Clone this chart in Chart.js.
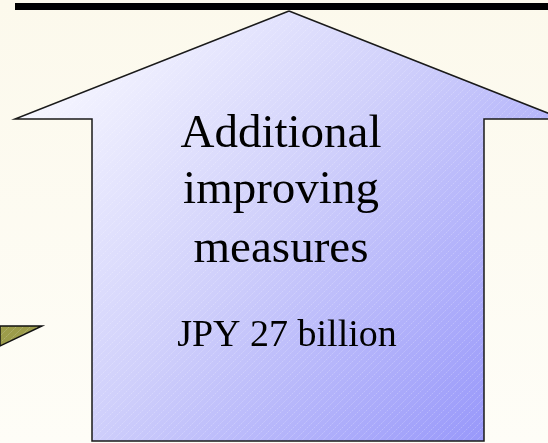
<!DOCTYPE html>
<html>
<head>
<meta charset="utf-8">
<script src="https://cdn.jsdelivr.net/npm/chart.js@4/dist/chart.umd.min.js"></script>
<style>
  html, body { margin: 0; padding: 0; background: #fcfaef; }
  #wrap { width: 548px; height: 443px; }
</style>
</head>
<body>
<div id="wrap"><canvas id="diagram" width="548" height="443"></canvas></div>
<script>
// Shape outlines (chart units = picture pixels, y grows downward)
const arrowX = [289, 563, 484, 484, 92, 92, 15, 289];
const arrowY = [11, 119, 119, 441, 441, 119, 119, 11];
const barX = [15, 548];
const barY = [6.5, 6.5];
const wedgeX = [0, 42, 0, 0];
const wedgeY = [326, 326, 346, 326];

// Texts
const arrowLines = ["Additional", "improving", "measures"];
const amountLabel = "JPY 27 billion";

const toPoints = (xs, ys) => xs.map((x, i) => ({ x, y: ys[i] }));

// --- Fills: gradient + faint diagonal hatching ---
function hatchedFill(chart, paint) {
  const w = chart.width, h = chart.height;
  const c = document.createElement("canvas");
  c.width = w; c.height = h;
  const g = c.getContext("2d");
  paint(g, w, h);
  g.strokeStyle = "rgba(255,255,255,0.28)";
  g.lineWidth = 0.8;
  g.setLineDash([2, 1]);
  for (let k = -h; k < w + h; k += 7) {
    g.beginPath();
    g.moveTo(k, h);
    g.lineTo(k + h, 0);
    g.stroke();
  }
  return chart.ctx.createPattern(c, "no-repeat");
}

let arrowFill = null, wedgeFill = null;

function getArrowFill(ctx) {
  const chart = ctx.chart;
  if (!arrowFill) {
    arrowFill = hatchedFill(chart, (g, w, h) => {
      const grad = g.createLinearGradient(60, 60, 500, 440);
      grad.addColorStop(0, "#f7f7ff");
      grad.addColorStop(0.45, "#d0d0fb");
      grad.addColorStop(1, "#9696fa");
      g.fillStyle = grad;
      g.fillRect(0, 0, w, h);
    });
  }
  return arrowFill;
}

function getWedgeFill(ctx) {
  const chart = ctx.chart;
  if (!wedgeFill) {
    wedgeFill = hatchedFill(chart, (g, w, h) => {
      g.fillStyle = "#9c9c4a";
      g.fillRect(0, 0, w, h);
    });
  }
  return wedgeFill;
}

// --- Plugins ---
const pageBackground = {
  id: "pageBackground",
  beforeDraw(chart) {
    const { ctx, width, height } = chart;
    const grad = ctx.createLinearGradient(0, 0, 0, height);
    grad.addColorStop(0, "#fcf9ec");
    grad.addColorStop(1, "#fefdf7");
    ctx.save();
    ctx.fillStyle = grad;
    ctx.fillRect(0, 0, width, height);
    ctx.restore();
  }
};

const arrowText = {
  id: "arrowText",
  afterDatasetsDraw(chart) {
    const { ctx, scales: { x, y } } = chart;
    ctx.save();
    ctx.fillStyle = "#000";
    ctx.textAlign = "center";
    ctx.textBaseline = "alphabetic";
    ctx.font = '47px "Liberation Serif", "Times New Roman", serif';
    const baselines = [147, 203, 262];
    arrowLines.forEach((t, i) => {
      ctx.fillText(t, x.getPixelForValue(281), y.getPixelForValue(baselines[i]));
    });
    ctx.font = '38px "Liberation Serif", "Times New Roman", serif';
    ctx.fillText(amountLabel, x.getPixelForValue(287), y.getPixelForValue(346));
    ctx.restore();
  }
};

new Chart(document.getElementById("diagram"), {
  type: "scatter",
  data: {
    datasets: [
      {
        label: "wedge",
        data: toPoints(wedgeX, wedgeY),
        showLine: true,
        fill: "shape",
        backgroundColor: getWedgeFill,
        borderColor: "#111",
        borderWidth: 1.5,
        pointRadius: 0,
        tension: 0
      },
      {
        label: "arrow",
        data: toPoints(arrowX, arrowY),
        showLine: true,
        fill: "shape",
        backgroundColor: getArrowFill,
        borderColor: "#1a1a1a",
        borderWidth: 1.5,
        borderJoinStyle: "miter",
        pointRadius: 0,
        tension: 0
      },
      {
        label: "bar",
        data: toPoints(barX, barY),
        showLine: true,
        fill: false,
        borderColor: "#000",
        borderWidth: 7,
        borderCapStyle: "butt",
        pointRadius: 0
      }
    ]
  },
  options: {
    responsive: false,
    animation: false,
    layout: { padding: 0 },
    plugins: { legend: { display: false }, tooltip: { enabled: false }, title: { display: false } },
    scales: {
      x: { type: "linear", min: 0, max: 548, display: false },
      y: { type: "linear", min: 0, max: 443, reverse: true, display: false }
    }
  },
  plugins: [pageBackground, arrowText]
});
</script>
</body>
</html>
